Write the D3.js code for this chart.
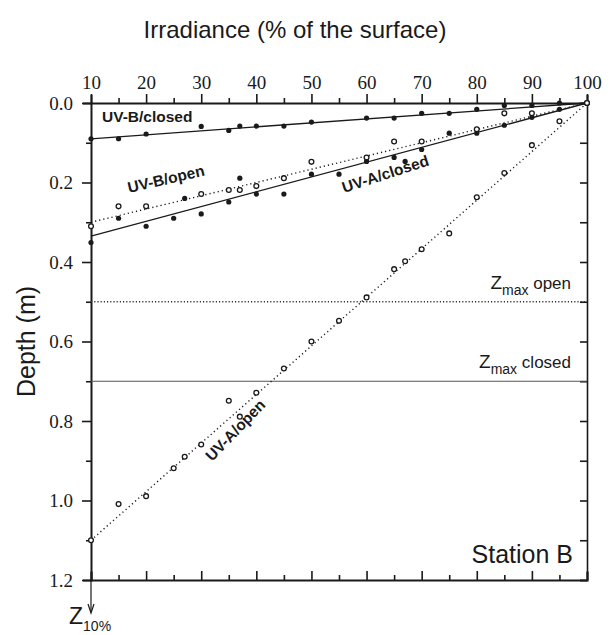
<!DOCTYPE html>
<html>
<head>
<meta charset="utf-8">
<script src="https://cdn.jsdelivr.net/npm/d3@7"></script>
<style>
  body { margin: 0; background: #fff; }
  text { fill: #1a1a1a; }
</style>
</head>
<body>
<div id="chart"></div>
<script>
// measured points: [irradiance %, depth m]
const uvbClosed = [[10,0.09],[15,0.09],[20,0.078],[30,0.059],[35,0.069],[37,0.058],[40,0.058],[45,0.058],
  [50,0.048],[60,0.038],[65,0.038],[70,0.026],[75,0.026],[80,0.016],[85,0.006],[90,0.006],[95,0.0],[100,0.0]];
const uvbOpen = [[10,0.31],[15,0.26],[20,0.26],[30,0.229],[35,0.219],[37,0.219],[40,0.209],[45,0.189],
  [50,0.148],[60,0.137],[65,0.097],[70,0.097],[80,0.066],[85,0.026],[90,0.026],[100,0.0]];
const uvaClosed = [[10,0.351],[15,0.29],[20,0.31],[25,0.29],[27,0.24],[30,0.279],[35,0.249],[37,0.189],
  [40,0.229],[45,0.229],[50,0.179],[55,0.179],[60,0.147],[65,0.137],[67,0.147],[70,0.117],[75,0.076],
  [80,0.076],[85,0.056],[90,0.036],[95,0.016],[100,0.0]];
const uvaOpen = [[10,1.10],[15,1.009],[20,0.989],[25,0.919],[27,0.89],[30,0.859],[35,0.749],[37,0.789],
  [40,0.729],[45,0.668],[50,0.60],[55,0.548],[60,0.489],[65,0.418],[67,0.398],[70,0.368],[75,0.328],
  [80,0.237],[85,0.176],[90,0.106],[95,0.046],[100,0.0]];

// regression lines: depth at 10 % irradiance, all meet 0 m at 100 %
const fitNames = ['UV-B/closed', 'UV-B/open', 'UV-A/closed', 'UV-A/open'];
const fitDepthAt10 = [0.09, 0.30, 0.335, 1.10];
const zmaxNames = ['open', 'closed'];
const zmaxDepths = [0.5, 0.7];

const xTicks = d3.range(10, 101, 5);
const yTicks = d3.range(0, 1.21, 0.1).map(d => +d.toFixed(1));

const W = 611, H = 635;
const margin = {top: 103, left: 91, right: 24, bottom: 55};

const svg = d3.select('#chart').append('svg')
    .attr('width', W)
    .attr('height', H)
    .style('font-family', '"Liberation Sans", Arial, sans-serif');

const x = d3.scaleLinear().domain([10, 100]).range([margin.left, W - margin.right]);
const y = d3.scaleLinear().domain([0, 1.2]).range([margin.top, H - margin.bottom]);

const isMajorX = d => d % 10 === 0;
const isMajorY = d => Math.round(d * 10) % 2 === 0;

// Axes
const topAxis = svg.append('g')
    .attr('transform', `translate(0,${y(0)})`)
    .call(d3.axisTop(x).tickValues(xTicks).tickSize(8).tickFormat(d => isMajorX(d) ? d : ''));
topAxis.selectAll('.tick line').attr('y2', d => isMajorX(d) ? -9 : -5);
topAxis.selectAll('.tick text').attr('y', -14)
    .style('font-family', '"Liberation Serif", "Times New Roman", serif').style('font-size', '19px');

const bottomAxis = svg.append('g')
    .attr('transform', `translate(0,${y(1.2)})`)
    .call(d3.axisBottom(x).tickValues(xTicks).tickSize(-8).tickFormat(''));
bottomAxis.selectAll('.tick line').attr('y2', d => isMajorX(d) ? -9 : -5);

const leftAxis = svg.append('g')
    .attr('transform', `translate(${x(10)},0)`)
    .call(d3.axisLeft(y).tickValues(yTicks).tickSize(8).tickFormat(d => isMajorY(d) ? d.toFixed(1) : ''));
leftAxis.selectAll('.tick line').attr('x2', d => isMajorY(d) ? -9 : -5);
leftAxis.selectAll('.tick text').attr('x', -18)
    .style('font-family', '"Liberation Serif", "Times New Roman", serif').style('font-size', '19px');

const rightAxis = svg.append('g')
    .attr('transform', `translate(${x(100)},0)`)
    .call(d3.axisRight(y).tickValues(yTicks).tickSize(-7).tickFormat(''));

svg.selectAll('.domain').attr('stroke', '#1a1a1a').attr('stroke-width', 2);
svg.selectAll('.tick line').attr('stroke', '#1a1a1a').attr('stroke-width', 1.6);
rightAxis.select('.domain').attr('stroke-width', 1.6);

// Zmax lines
const zg = svg.append('g');
zg.selectAll('line').data(zmaxDepths).join('line')
    .attr('x1', x(10)).attr('x2', x(100))
    .attr('y1', d => y(d)).attr('y2', d => y(d))
    .attr('stroke', (d, i) => i === 0 ? '#333' : '#555')
    .attr('stroke-width', (d, i) => i === 0 ? 1.3 : 1.2)
    .attr('stroke-dasharray', (d, i) => i === 0 ? '1.2,2' : null);

zg.selectAll('text').data(zmaxDepths).join('text')
    .attr('x', x(100) - 16)
    .attr('y', d => y(d) - 13)
    .attr('text-anchor', 'end')
    .style('font-size', '17px')
    .each(function(d, i) {
      const t = d3.select(this);
      t.append('tspan').style('font-size', '19px').text('Z');
      t.append('tspan').attr('dy', 6).style('font-size', '14px').text('max');
      t.append('tspan').attr('dy', -6).text('\u00a0' + zmaxNames[i]);
    });

// Fitted lines
const solid = [true, false, true, false];
svg.append('g').selectAll('line').data(fitDepthAt10).join('line')
    .attr('x1', x(10)).attr('y1', d => y(d))
    .attr('x2', x(100)).attr('y2', y(0))
    .attr('stroke', '#1a1a1a')
    .attr('stroke-width', (d, i) => solid[i] ? 1.3 : 1.4)
    .attr('stroke-dasharray', (d, i) => solid[i] ? null : '1.2,3');

// Points
function filled(data) {
  svg.append('g').selectAll('circle').data(data).join('circle')
      .attr('cx', d => x(d[0])).attr('cy', d => y(d[1]))
      .attr('r', 2.6).attr('fill', '#1a1a1a');
}
function open(data) {
  svg.append('g').selectAll('circle').data(data).join('circle')
      .attr('cx', d => x(d[0])).attr('cy', d => y(d[1]))
      .attr('r', 2.4).attr('fill', '#fff').attr('stroke', '#1a1a1a').attr('stroke-width', 1.3);
}
filled(uvbClosed);
filled(uvaClosed);
open(uvbOpen);
open(uvaOpen);

// Series labels
const labels = [
  {text: fitNames[0], x: 102, y: 122, rot: 0},
  {text: fitNames[1], x: 129, y: 193, rot: -13},
  {text: fitNames[2], x: 344, y: 193, rot: -18},
  {text: fitNames[3], x: 212, y: 462, rot: -46}
];
svg.append('g').selectAll('text').data(labels).join('text')
    .attr('transform', d => `translate(${d.x},${d.y}) rotate(${d.rot})`)
    .style('font-size', '15.5px')
    .style('font-weight', 'bold')
    .text(d => d.text);

// Titles
svg.append('text')
    .attr('x', 295).attr('y', 38)
    .attr('text-anchor', 'middle')
    .style('font-size', '24px')
    .text('Irradiance (% of the surface)');

svg.append('text')
    .attr('transform', `translate(35,${y(0.6)}) rotate(-90)`)
    .attr('text-anchor', 'middle')
    .style('font-size', '25px')
    .text('Depth (m)');

svg.append('text')
    .attr('x', x(100) - 14).attr('y', 563)
    .attr('text-anchor', 'end')
    .style('font-size', '25px')
    .text('Station B');

// Z10% arrow
svg.append('line')
    .attr('x1', x(10)).attr('x2', x(10))
    .attr('y1', y(1.2)).attr('y2', y(1.2) + 32)
    .attr('stroke', '#1a1a1a').attr('stroke-width', 1.2);
svg.append('path')
    .attr('d', `M${x(10) - 3},${y(1.2) + 24} L${x(10)},${y(1.2) + 33} L${x(10) + 3},${y(1.2) + 24}`)
    .attr('fill', 'none').attr('stroke', '#1a1a1a').attr('stroke-width', 1.2);
const z = svg.append('text').attr('x', 69).attr('y', 624);
z.append('tspan').style('font-size', '23px').text('Z');
z.append('tspan').attr('dy', 7).style('font-size', '14px').text('10%');
</script>
</body>
</html>
